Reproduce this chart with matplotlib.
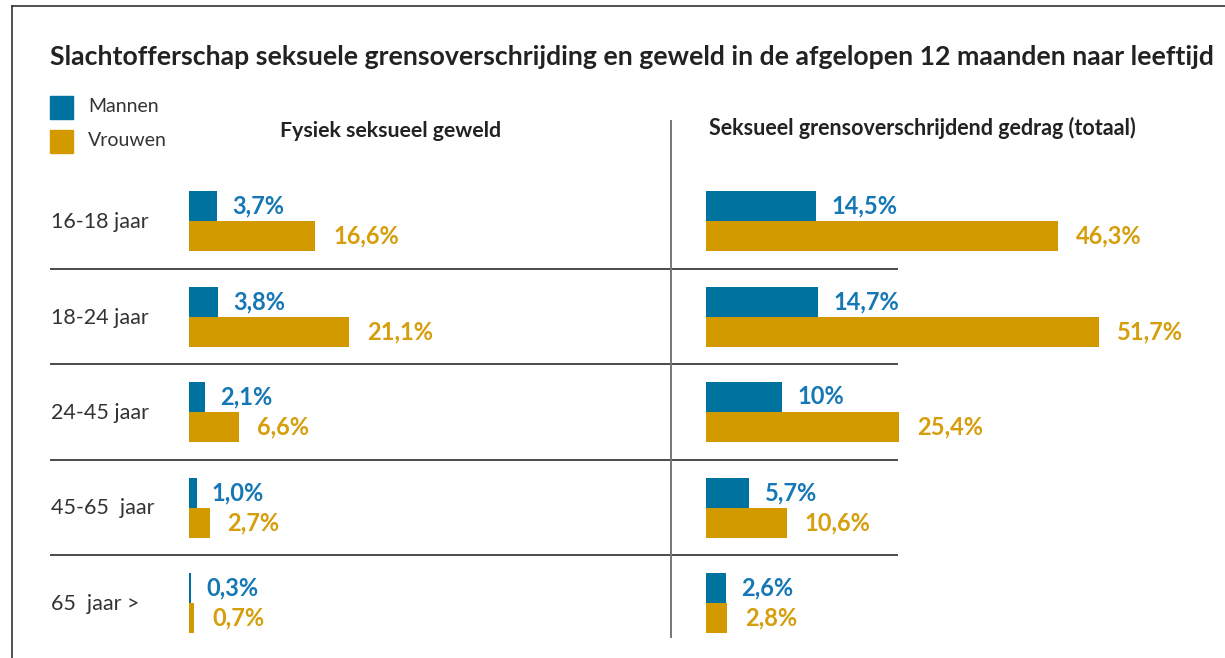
import matplotlib.pyplot as plt

# Data
groups = ["16-18 jaar", "18-24 jaar", "24-45 jaar", "45-65  jaar", "65  jaar >"]
fysiek_mannen = [3.7, 3.8, 2.1, 1.0, 0.3]
fysiek_vrouwen = [16.6, 21.1, 6.6, 2.7, 0.7]
gedrag_mannen = [14.5, 14.7, 10.0, 5.7, 2.6]
gedrag_vrouwen = [46.3, 51.7, 25.4, 10.6, 2.8]
fysiek_mannen_labels = ["3,7%", "3,8%", "2,1%", "1,0%", "0,3%"]
fysiek_vrouwen_labels = ["16,6%", "21,1%", "6,6%", "2,7%", "0,7%"]
gedrag_mannen_labels = ["14,5%", "14,7%", "10%", "5,7%", "2,6%"]
gedrag_vrouwen_labels = ["46,3%", "51,7%", "25,4%", "10,6%", "2,8%"]

title = "Slachtofferschap seksuele grensoverschrijding en geweld in de afgelopen 12 maanden naar leeftijd"
panel_titles = ["Fysiek seksueel geweld", "Seksueel grensoverschrijdend gedrag (totaal)"]
legend_names = ["Mannen", "Vrouwen"]

# Colours
blue = "#00729f"
orange = "#d39a00"
blue_text = "#1577b5"
orange_text = "#d69e0c"
dark = "#222222"

plt.rcParams["font.family"] = ["Lato", "DejaVu Sans"]

W, H = 1225, 658
fig = plt.figure(figsize=(W / 100, H / 100), dpi=100)

# Background axes in pixel coordinates for the frame and separators
bg = fig.add_axes([0, 0, 1, 1])
bg.set_xlim(0, W)
bg.set_ylim(H, 0)
bg.axis("off")

# Row geometry (pixels)
row0 = 221
row_h = 95.5
px_per_pct = 7.6
bar_h = 30 / row_h

top_px = row0 - 0.5 * row_h
bot_px = row0 + (len(groups) - 0.5) * row_h


def panel_axes(x0, x1):
    ax = fig.add_axes(
        [x0 / W, 1 - bot_px / H, (x1 - x0) / W, (bot_px - top_px) / H]
    )
    ax.set_xlim(0, (x1 - x0) / px_per_pct)
    ax.set_ylim(len(groups) - 0.5, -0.5)
    ax.axis("off")
    return ax


def draw_panel(ax, men, women, men_labels, women_labels):
    ys = list(range(len(groups)))
    ax.barh([y - bar_h for y in ys], men, height=bar_h, align="edge", color=blue)
    ax.barh(ys, women, height=bar_h, align="edge", color=orange)
    for y, v, lab in zip(ys, men, men_labels):
        ax.annotate(lab, (v, y - bar_h / 2), xytext=(11, 0), textcoords="offset points",
                    va="center", ha="left", fontsize=17, fontweight="bold", color=blue_text)
    for y, v, lab in zip(ys, women, women_labels):
        ax.annotate(lab, (v, y + bar_h / 2), xytext=(13, 0), textcoords="offset points",
                    va="center", ha="left", fontsize=17, fontweight="bold", color=orange_text)


ax1 = panel_axes(189, 669)
draw_panel(ax1, fysiek_mannen, fysiek_vrouwen, fysiek_mannen_labels, fysiek_vrouwen_labels)

ax2 = panel_axes(706, W)
draw_panel(ax2, gedrag_mannen, gedrag_vrouwen, gedrag_mannen_labels, gedrag_vrouwen_labels)

# Frame lines (top and left)
bg.plot([12, W], [6, 6], color="#333333", lw=1.2)
bg.plot([12, 12], [6, H], color="#333333", lw=1.2)

# Separators between age groups and the divider between the panels
for i in range(len(groups) - 1):
    y = row0 + (i + 0.5) * row_h
    bg.plot([51, 897], [y, y], color="#4a4a4a", lw=1.4)
bg.plot([671, 671], [121, 637], color="#777777", lw=1.4)

# Titles
bg.text(50, 57, title, fontsize=19.2, fontweight="bold", color=dark, va="center", ha="left")
bg.text(391, 131, panel_titles[0], fontsize=15.3, fontweight="bold", color=dark, va="center", ha="center")
bg.text(709, 128, panel_titles[1], fontsize=15.5, fontweight="bold", color=dark, va="center", ha="left")

# Legend
for i, (name, col) in enumerate(zip(legend_names, [blue, orange])):
    y = 96 + i * 34
    bg.add_patch(plt.Rectangle((50, y), 23, 23, color=col))
    bg.text(88, y + 11, name, fontsize=14, color="#333333", va="center", ha="left")

# Row labels
for i, g in enumerate(groups):
    bg.text(51, row0 + i * row_h + 1, g, fontsize=15.5, color="#333333", va="center", ha="left")

plt.savefig("out.png", dpi=100)
plt.close()
